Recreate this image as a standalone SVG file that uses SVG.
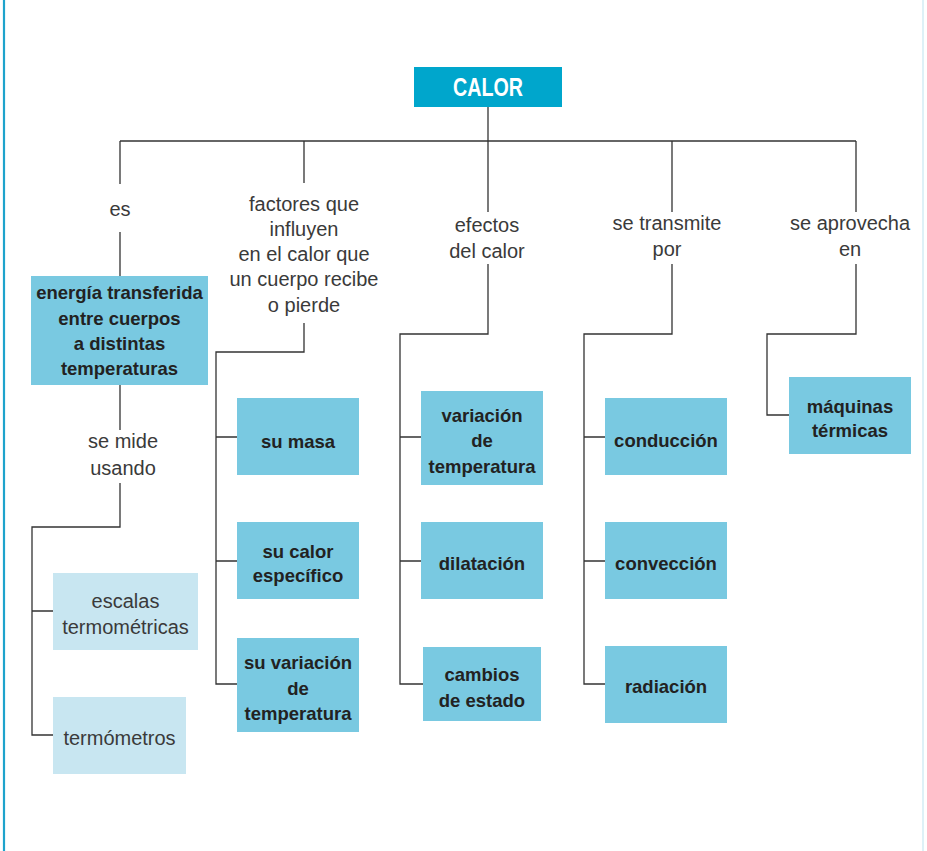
<svg xmlns="http://www.w3.org/2000/svg" width="927" height="851" viewBox="0 0 927 851">
<style>
.bg{fill:#ffffff}
.main{fill:#00a6cc}
.box{fill:#79c9e1}
.lbox{fill:#c8e6f1}
.lines{fill:none;stroke:#333333;stroke-width:1.3}
.t{font-family:"Liberation Sans",Arial,sans-serif;font-size:20px;fill:#3a3a3a;text-anchor:middle}
.b{font-family:"Liberation Sans",Arial,sans-serif;font-size:18.5px;font-weight:bold;fill:#222222;text-anchor:middle}
.title{font-family:"Liberation Sans",Arial,sans-serif;font-size:25px;font-weight:bold;fill:#ffffff;text-anchor:middle}
</style>
<rect class="bg" x="0" y="0" width="927" height="851"/>
<line x1="4" y1="0" x2="4" y2="851" stroke="#1ea3cc" stroke-width="2.2"/>
<line x1="923" y1="0" x2="923" y2="851" stroke="#d2ecf4" stroke-width="1.5"/>

<g id="connectors" class="lines">
  <path d="M488 107 V141"/>
  <path d="M120 141 H856"/>
  <path d="M120 141 V184 M120 232 V276"/>
  <path d="M120 385 V430 M120 483 V527 H32 V735 H53 M32 611 H53"/>
  <path d="M304 141 V183 M304 323 V352 H216 V684 H237 M216 437 H237 M216 561 H237"/>
  <path d="M488 141 V212 M488 264 V334 H400 V684 H423 M400 437 H421 M400 561 H421"/>
  <path d="M672 141 V212 M672 264 V334 H584 V684 H605 M584 437 H605 M584 561 H605"/>
  <path d="M856 141 V212 M856 264 V334 H767 V415 H789"/>
</g>

<g id="calor">
  <rect class="main" x="414" y="67" width="148" height="40"/>
  <text class="title" x="488" y="96" textLength="70" lengthAdjust="spacingAndGlyphs">CALOR</text>
</g>

<g id="lbl-es"><text class="t" x="120" y="216">es</text></g>
<g id="lbl-factores">
  <text class="t" x="304" y="210.5">factores que</text>
  <text class="t" x="304" y="235.5">influyen</text>
  <text class="t" x="304" y="261">en el calor que</text>
  <text class="t" x="304" y="286">un cuerpo recibe</text>
  <text class="t" x="304" y="311.5">o pierde</text>
</g>
<g id="lbl-efectos">
  <text class="t" x="487" y="231.5">efectos</text>
  <text class="t" x="487" y="258">del calor</text>
</g>
<g id="lbl-transmite">
  <text class="t" x="667" y="230">se transmite</text>
  <text class="t" x="667" y="256">por</text>
</g>
<g id="lbl-aprovecha">
  <text class="t" x="850" y="230">se aprovecha</text>
  <text class="t" x="850" y="256">en</text>
</g>
<g id="lbl-mide">
  <text class="t" x="123" y="448">se mide</text>
  <text class="t" x="123" y="474.5">usando</text>
</g>

<g id="energia">
  <rect class="box" x="31" y="276" width="177" height="109"/>
  <text class="b" x="119.5" y="299">energía transferida</text>
  <text class="b" x="119.5" y="324.5">entre cuerpos</text>
  <text class="b" x="119.5" y="350">a distintas</text>
  <text class="b" x="119.5" y="375">temperaturas</text>
</g>
<g id="escalas">
  <rect class="lbox" x="53" y="573" width="145" height="77"/>
  <text class="t" x="125.5" y="608">escalas</text>
  <text class="t" x="125.5" y="634">termométricas</text>
</g>
<g id="termometros">
  <rect class="lbox" x="53" y="697" width="133" height="77"/>
  <text class="t" x="119.5" y="745">termómetros</text>
</g>

<g id="su-masa">
  <rect class="box" x="237" y="398" width="122" height="77"/>
  <text class="b" x="298" y="447.5">su masa</text>
</g>
<g id="su-calor">
  <rect class="box" x="237" y="522" width="122" height="77"/>
  <text class="b" x="298" y="558">su calor</text>
  <text class="b" x="298" y="582">específico</text>
</g>
<g id="su-variacion">
  <rect class="box" x="237" y="638" width="122" height="94"/>
  <text class="b" x="298" y="669">su variación</text>
  <text class="b" x="298" y="695">de</text>
  <text class="b" x="298" y="720">temperatura</text>
</g>

<g id="variacion">
  <rect class="box" x="421" y="391" width="122" height="94"/>
  <text class="b" x="482" y="421.5">variación</text>
  <text class="b" x="482" y="447">de</text>
  <text class="b" x="482" y="472.5">temperatura</text>
</g>
<g id="dilatacion">
  <rect class="box" x="421" y="522" width="122" height="77"/>
  <text class="b" x="482" y="570">dilatación</text>
</g>
<g id="cambios">
  <rect class="box" x="423" y="647" width="118" height="74"/>
  <text class="b" x="482" y="681">cambios</text>
  <text class="b" x="482" y="706.5">de estado</text>
</g>

<g id="conduccion">
  <rect class="box" x="605" y="398" width="122" height="77"/>
  <text class="b" x="666" y="446.5">conducción</text>
</g>
<g id="conveccion">
  <rect class="box" x="605" y="522" width="122" height="77"/>
  <text class="b" x="666" y="570">convección</text>
</g>
<g id="radiacion">
  <rect class="box" x="605" y="646" width="122" height="77"/>
  <text class="b" x="666" y="693">radiación</text>
</g>

<g id="maquinas">
  <rect class="box" x="789" y="377" width="122" height="77"/>
  <text class="b" x="850" y="412.5">máquinas</text>
  <text class="b" x="850" y="437">térmicas</text>
</g>
</svg>
